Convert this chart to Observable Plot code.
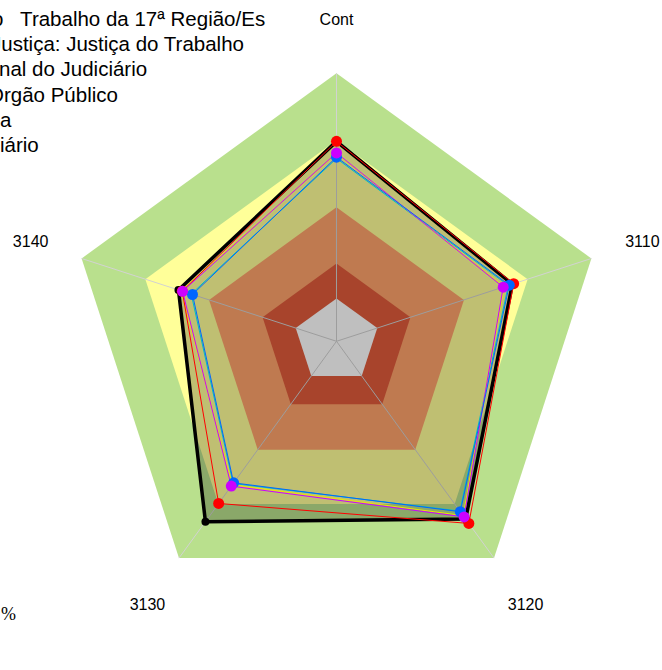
<!DOCTYPE html>
<html><head><meta charset="utf-8">
<script src="https://cdn.jsdelivr.net/npm/d3@7"></script>
<script src="https://cdn.jsdelivr.net/npm/@observablehq/plot@0.6"></script>
<style>
html,body{margin:0;padding:0;background:#fff;}
#wrap{position:relative;width:662px;height:670px;overflow:hidden;}
#chart{position:absolute;left:0;top:0;}
#legend{position:absolute;left:0;top:6px;font-family:"Liberation Sans",Arial,sans-serif;font-size:20.5px;line-height:25.2px;white-space:pre;color:#000;}
#legend div{position:relative;}
#pct{position:absolute;left:1px;top:604px;font-family:"Liberation Serif","Times New Roman",serif;font-size:18px;color:#000;}
</style></head><body>
<div id="wrap"><div id="chart"></div><div id="legend"></div><div id="pct">%</div></div>
<script>
// axes of the radar
const axes = ["Cont", "3110", "3120", "3130", "3140"];
// background bands (percent of full scale)
const bands = [100, 75, 50, 29, 16];
// series values (percent), in axis order
const serieTribunal = [74.6, 69.0, 82.0, 83.2, 62.0];   // black
const serieSegmento = [74.6, 69.5, 84.0, 74.8, 60.5];   // red
const serieNacional = [70.3, 65.4, 81.0, 66.8, 60.4];   // magenta
const serieOrgao    = [68.7, 67.8, 78.6, 65.3, 56.5];   // blue
const serieEsfera   = [68.2, 67.4, 78.3, 65.6, 57.0];   // cyan
const seriePoder    = [70.0, 65.8, 80.4, 66.2, 61.0];   // yellow
// legend labels (visible part)
const legendLabels = [
  "o   Trabalho da 17ª Região/Es",
  "Justiça: Justiça do Trabalho",
  "nal do Judiciário",
  "Órgão Público",
  "a",
  "iário"
];
const legendOffsets = [-8, -9, -1, -12, 0, 0];

const ang = i => (90 - 72 * i) * Math.PI / 180;
const pts = vals => vals.map((v, i) => ({x: v * Math.cos(ang(i)), y: v * Math.sin(ang(i)), axis: axes[i]}));
const closed = vals => { const p = pts(vals); return [...p, p[0]]; };
const ring = v => closed(axes.map(() => v));

const bandColors = ["#b9e08d", "#ffff99", "#ffa36b", "#e05b3b", "#ffffff"];
const font = "Liberation Sans, Arial, sans-serif";

const marks = [];
bands.forEach((b, k) => marks.push(Plot.line(ring(b), {x: "x", y: "y", fill: bandColors[k], stroke: "none"})));
marks.push(Plot.link(axes, {x1: () => 0, y1: () => 0,
  x2: (d, i) => 100 * Math.cos(ang(i)), y2: (d, i) => 100 * Math.sin(ang(i)),
  stroke: "#d2d2d2", strokeWidth: 1}));
// darkened area of the principal series
marks.push(Plot.line(closed(serieTribunal), {x: "x", y: "y", fill: "#000", fillOpacity: 0.25, stroke: "none"}));
// series lines
marks.push(Plot.line(closed(serieTribunal), {x: "x", y: "y", stroke: "#000", strokeWidth: 3.5, strokeLinejoin: "miter"}));
marks.push(Plot.line(closed(serieEsfera), {x: "x", y: "y", stroke: "#00c0c0", strokeWidth: 1}));
marks.push(Plot.line(closed(seriePoder), {x: "x", y: "y", stroke: "#e8e800", strokeWidth: 1}));
marks.push(Plot.line(closed(serieSegmento), {x: "x", y: "y", stroke: "#ff0000", strokeWidth: 1}));
marks.push(Plot.line(closed(serieNacional), {x: "x", y: "y", stroke: "#cc00ff", strokeWidth: 1}));
marks.push(Plot.line(closed(serieOrgao), {x: "x", y: "y", stroke: "#0066ff", strokeWidth: 1}));
// markers
marks.push(Plot.dot(pts(serieTribunal), {x: "x", y: "y", r: 4, fill: "#000", stroke: "none"}));
marks.push(Plot.dot(pts(serieSegmento), {x: "x", y: "y", r: 5.5, fill: "#ff0000", stroke: "none"}));
marks.push(Plot.dot(pts(serieOrgao), {x: "x", y: "y", r: 5.5, fill: "#0066ff", stroke: "none"}));
marks.push(Plot.dot(pts(serieNacional), {x: "x", y: "y", r: 5.5, fill: "#cc00ff", stroke: "none"}));
// axis labels
marks.push(Plot.text(axes, {
  x: (d, i) => 120 * Math.cos(ang(i)),
  y: (d, i) => 120 * Math.sin(ang(i)) - (Math.sin(ang(i)) < 0 ? 1.3 : 0),
  text: d => d, fontSize: 16, fontFamily: font, fill: "#000"}));

const chart = Plot.plot({
  width: 662, height: 670, margin: 0,
  x: {domain: [-125.37, 121.64], axis: null},
  y: {domain: [-122.84, 127.16], axis: null},
  style: {background: "transparent", fontFamily: font},
  marks
});
document.getElementById("chart").appendChild(chart);

const lg = document.getElementById("legend");
legendLabels.forEach((t, i) => {
  const d = document.createElement("div");
  d.textContent = t;
  d.style.left = legendOffsets[i] + "px";
  lg.appendChild(d);
});
</script>
</body></html>
